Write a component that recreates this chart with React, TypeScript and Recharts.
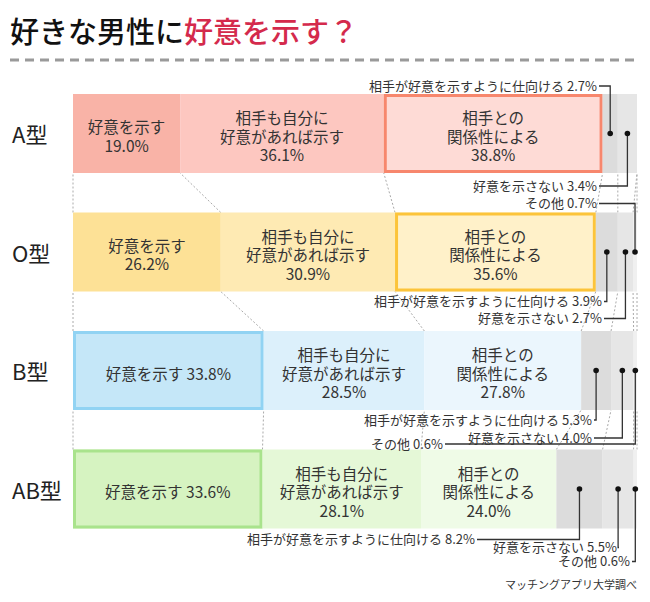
import React from 'react'
import { BarChart, Bar, XAxis, YAxis } from 'recharts'

// blood types (rows) and the six answers, % of respondents
const BLOOD_TYPES = ['A型', 'O型', 'B型', 'AB型']
const SHOW = [19.0, 26.2, 33.8, 33.6]
const IF_MUTUAL = [36.1, 30.9, 28.5, 28.1]
const DEPENDS = [38.8, 35.6, 27.8, 24.0]
const INDUCE = [2.7, 3.9, 5.3, 8.2]
const NOT_SHOW = [3.4, 2.7, 4.0, 5.5]
const OTHER = [0, 0.7, 0.6, 0.6]

const ANSWERS = [
  '好意を示す',
  '相手も自分に好意があれば示す',
  '相手との関係性による',
  '相手が好意を示すように仕向ける',
  '好意を示さない',
  'その他',
]
const ANSWER_LINES = [['好意を示す'], ['相手も自分に', '好意があれば示す'], ['相手との', '関係性による']]

const SERIES = [SHOW, IF_MUTUAL, DEPENDS, INDUCE, NOT_SHOW, OTHER]
const KEYS = SERIES.map((_, j) => `s${j}`)

const data = BLOOD_TYPES.map((name, r) => {
  const row: Record<string, any> = { name }
  SERIES.forEach((s, j) => {
    row[KEYS[j]] = s[r]
  })
  return row
})

const FONT = '"Noto Sans CJK JP", "Noto Sans", sans-serif'
const W = 650
const H = 602
const MARGIN = { top: 74, right: 13, bottom: 54, left: 0 }
const BAR_SIZE = 79
const STEP = (H - MARGIN.top - MARGIN.bottom) / BLOOD_TYPES.length
const GAP = STEP - BAR_SIZE

const GRAYS = ['#dcdcdc', '#e6e6e6', '#f0f0f0']
const FILLS = [
  ['#f9b3a7', '#fdc7c0', '#fedbd6', ...GRAYS],
  ['#fde196', '#feeab3', '#fff1c9', ...GRAYS],
  ['#c5e7f8', '#dcf0fb', '#ebf6fd', ...GRAYS],
  ['#d6f3c1', '#e5f8d7', '#effbe7', ...GRAYS],
]
const BORDERS = ['#f7876d', '#fcc43a', '#91d3f3', '#a9e38c']

// callout placement for the small answers: label centre relative to bar edge,
// right end of label relative to the plot's right edge
const CALLOUTS: Record<string, { edge: 'top' | 'bottom'; dy: number; right: number }> = {
  '0-3': { edge: 'top', dy: -9, right: -40 },
  '0-4': { edge: 'bottom', dy: 12, right: -40 },
  '1-5': { edge: 'top', dy: -10, right: -40 },
  '1-3': { edge: 'bottom', dy: 9, right: -35 },
  '1-4': { edge: 'bottom', dy: 26, right: -35 },
  '2-3': { edge: 'bottom', dy: 9, right: -45 },
  '2-4': { edge: 'bottom', dy: 27, right: -45 },
  '2-5': { edge: 'bottom', dy: 33, right: -194 },
  '3-3': { edge: 'bottom', dy: 10, right: -162 },
  '3-4': { edge: 'bottom', dy: 18, right: -20 },
  '3-5': { edge: 'bottom', dy: 32, right: -7 },
}

const pct = (v: number) => `${v.toFixed(1)}%`
const cum = (r: number, upto: number) => SERIES.slice(0, upto).reduce((a, s) => a + s[r], 0)

function makeShape(j: number) {
  return (props: any) => {
    const { x, y, width, height, payload } = props
    const r = BLOOD_TYPES.indexOf(payload.name)
    const v = SERIES[j][r]
    if (!v || !width) return <g />
    const k = width / v
    const x0 = x - cum(r, j) * k
    const right = x0 + 100 * k
    const cy = y + height / 2
    const rowMax = Math.max(...SERIES.map((s) => s[r]))
    const hi = v === rowMax

    let lines: string[] = []
    if (j === 0) lines = width > 160 ? [`${ANSWERS[0]} ${pct(v)}`] : [ANSWERS[0], pct(v)]
    else if (j < 3) lines = [...ANSWER_LINES[j], pct(v)]

    const call = CALLOUTS[`${r}-${j}`]
    let callout = null
    if (call) {
      const dotX = x + width / 2
      const ty = call.edge === 'top' ? y + call.dy : y + height + call.dy
      const tx = right + call.right
      callout = (
        <g>
          <path d={`M${tx + 2},${ty + 1} H${dotX} V${cy}`} fill="none" stroke="#333" strokeWidth={1.3} />
          <circle cx={dotX} cy={cy} r={2.8} fill="#111" />
          <text x={tx} y={ty} textAnchor="end" dominantBaseline="central" fontSize={13} fill="#333" fontFamily={FONT}>
            {`${ANSWERS[j]} ${pct(v)}`}
          </text>
        </g>
      )
    }

    return (
      <g>
        {r > 0 && (
          <g stroke="#aaa" strokeWidth={1} strokeDasharray="2 2">
            {j === 0 && <line x1={x} y1={y} x2={x0} y2={y - GAP} />}
            <line x1={x + width} y1={y} x2={x0 + cum(r - 1, j + 1) * k} y2={y - GAP} />
          </g>
        )}
        <rect x={x} y={y} width={width} height={height} fill={FILLS[r][j]} />
        {hi && (
          <rect
            x={x + 1.5}
            y={y + 1.5}
            width={width - 3}
            height={height - 3}
            fill="none"
            stroke={BORDERS[r]}
            strokeWidth={3}
          />
        )}
        {lines.length > 0 && (
          <text textAnchor="middle" fontSize={15.5} fill="#333" fontFamily={FONT}>
            {lines.map((t, i) => (
              <tspan
                key={i}
                x={x + width / 2}
                y={cy + 2 + (i - (lines.length - 1) / 2) * 18.5}
                dominantBaseline="central"
              >
                {t}
              </tspan>
            ))}
          </text>
        )}
        {callout}
      </g>
    )
  }
}

const TypeTick = (props: any) => {
  const { y, payload } = props
  return (
    <text x={12} y={y} dominantBaseline="central" fontSize={22} fill="#222" fontFamily={FONT}>
      {payload.value}
    </text>
  )
}

export default function App() {
  return (
    <div style={{ position: 'absolute', left: 0, top: 0, width: W, height: H, background: '#fff', fontFamily: FONT }}>
      <div style={{ position: 'absolute', left: 10, top: 11, fontSize: 29, fontWeight: 500, color: '#111', lineHeight: '38px', whiteSpace: 'nowrap' }}>
        好きな男性に<span style={{ color: '#d42a4c' }}>好意を示す？</span>
      </div>
      <svg width={W} height={H} style={{ position: 'absolute', left: 0, top: 0 }}>
        <line x1={10} y1={60} x2={640} y2={60} stroke="#9a9a9a" strokeWidth={3} strokeDasharray="9 6" />
        <text x={637} y={584} textAnchor="end" dominantBaseline="central" fontSize={11} fill="#333" fontFamily={FONT}>
          マッチングアプリ大学調べ
        </text>
      </svg>
      <div style={{ position: 'absolute', left: 0, top: 0 }}>
        <BarChart width={W} height={H} data={data} layout="vertical" margin={MARGIN} barSize={BAR_SIZE}>
          <XAxis type="number" domain={[0, 100]} hide />
          <YAxis type="category" dataKey="name" width={73} axisLine={false} tickLine={false} tick={<TypeTick />} />
          {KEYS.map((key, j) => (
            <Bar
              key={key}
              dataKey={key}
              name={ANSWERS[j]}
              stackId="a"
              isAnimationActive={false}
              shape={makeShape(j)}
            />
          ))}
        </BarChart>
      </div>
    </div>
  )
}
